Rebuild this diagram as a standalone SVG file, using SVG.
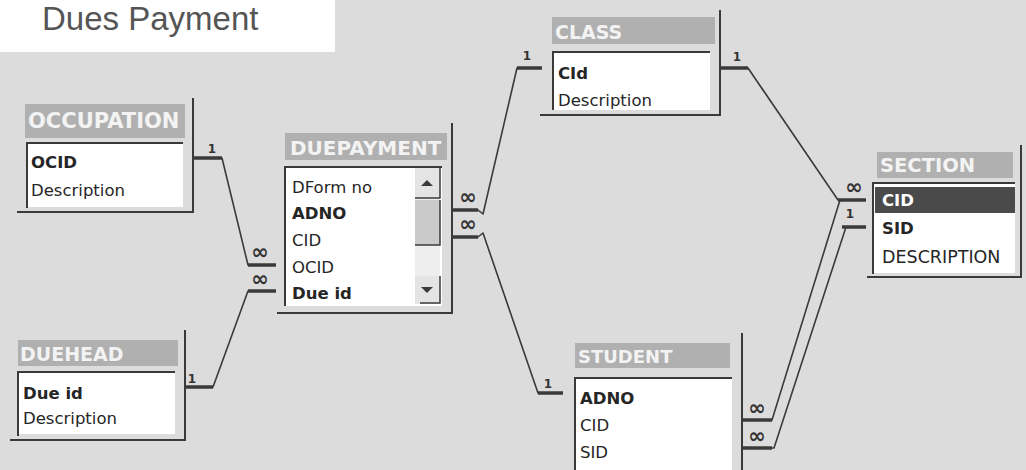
<svg xmlns="http://www.w3.org/2000/svg" width="1026" height="470" viewBox="0 0 1026 470">
<style>
.frame{fill:none;stroke:#3a3a3a;stroke-width:2}
.hdr{fill:#b0b0b0}
.htxt{font-family:"DejaVu Sans",sans-serif;font-weight:bold;fill:#f3f3f3}
.list{fill:#ffffff}
.sunk{fill:none;stroke:#3a3a3a;stroke-width:2}
.fld{font-family:"DejaVu Sans",sans-serif;font-size:16.5px;fill:#262626}
.pk{font-weight:bold}
.conn{fill:none;stroke:#3a3a3a;stroke-width:1.6;stroke-linejoin:round}
.bar{fill:none;stroke:#3a3a3a;stroke-width:3.5}
.one{font-family:"DejaVu Sans",sans-serif;font-weight:bold;font-size:12px;fill:#333333;text-anchor:middle}
.inf{font-family:"DejaVu Sans",sans-serif;font-weight:bold;font-size:21px;fill:#333333;text-anchor:middle}
.btn{fill:#e4e4e4}
.edge{fill:none;stroke:#3a3a3a;stroke-width:1.5}
</style>
<rect x="0" y="0" width="1026" height="470" fill="#dcdcdc"/>
<g id="title">
<rect x="0" y="0" width="335" height="52" fill="#ffffff"/>
<text x="42" y="30" font-family="Liberation Sans, Arial, sans-serif" font-size="33" fill="#555555">Dues Payment</text>
</g>
<g id="connectors">
<path class="conn" d="M193,158 H222 L248,265 H276"/>
<path class="bar" d="M193,158 H222 M248,265 H276"/>
<path class="conn" d="M185,387 H213 L248,291 H276"/>
<path class="bar" d="M185,387 H213 M248,291 H276"/>
<text class="inf" x="260" y="259">∞</text>
<text class="inf" x="260" y="286">∞</text>
<text class="one" x="212" y="153">1</text>
<text class="one" x="192" y="383">1</text>
<path class="conn" d="M452,210 H478 L483,214 L517,68 H542"/>
<path class="bar" d="M452,210 H478 M517,68 H542"/>
<path class="conn" d="M452,237 H478 L483,233 L538,393 H563"/>
<path class="bar" d="M452,237 H478 M538,393 H563"/>
<text class="inf" x="468" y="204">∞</text>
<text class="inf" x="468" y="231">∞</text>
<text class="one" x="527" y="60">1</text>
<text class="one" x="548" y="388">1</text>
<path class="conn" d="M720,68 H748 L838,200 H866"/>
<path class="bar" d="M720,68 H748 M838,200 H866"/>
<path class="conn" d="M742,420 H772 L840,200"/>
<path class="bar" d="M742,420 H772"/>
<path class="conn" d="M742,448 H774 L846,227 H866"/>
<path class="bar" d="M742,448 H772 M842,227 H866"/>
<text class="inf" x="854" y="194">∞</text>
<text class="inf" x="757" y="415">∞</text>
<text class="inf" x="757" y="443">∞</text>
<text class="one" x="737" y="61">1</text>
<text class="one" x="850" y="218">1</text>
</g>
<g id="occupation">
<rect class="hdr" x="25" y="104" width="160" height="34"/>
<text class="htxt" x="28" y="128" font-size="21">OCCUPATION</text>
<rect class="list" x="27" y="143" width="156" height="64"/>
<path class="sunk" d="M27,208 V143 H183"/>
<path class="frame" d="M193,98 V212 H17"/>
<text class="fld pk" x="31" y="168">OCID</text>
<text class="fld" x="31" y="196">Description</text>
</g>
<g id="duehead">
<rect class="hdr" x="18" y="340" width="160" height="26"/>
<text class="htxt" x="20" y="361" font-size="19">DUEHEAD</text>
<rect class="list" x="18" y="372" width="157" height="62"/>
<path class="sunk" d="M18,436 V372 H175"/>
<path class="frame" d="M185,330 V440 H10"/>
<text class="fld pk" x="23" y="399">Due id</text>
<text class="fld" x="23" y="424">Description</text>
</g>
<g id="duepayment">
<rect class="hdr" x="285" y="133" width="162" height="27"/>
<text class="htxt" x="290" y="155" font-size="20">DUEPAYMENT</text>
<rect class="list" x="285" y="167" width="157" height="139"/>
<path class="sunk" d="M285,306 V167 H442"/>
<path class="frame" d="M452,123 V313 H277"/>
<text class="fld" x="292" y="193">DForm no</text>
<text class="fld pk" x="292" y="219">ADNO</text>
<text class="fld" x="292" y="246">CID</text>
<text class="fld" x="292" y="273">OCID</text>
<text class="fld pk" x="292" y="299">Due id</text>
<rect x="415" y="168" width="25" height="136" fill="#eeeeee"/>
<rect class="btn" x="415" y="168" width="25" height="30"/>
<path class="edge" d="M415,198 H440 V168"/>
<polygon points="421,186 433,186 427,180" fill="#3a3a3a"/>
<rect x="415" y="200" width="25" height="45" fill="#cacaca"/>
<path class="edge" d="M415,245 H440 V200"/>
<rect class="btn" x="415" y="276" width="25" height="28"/>
<path class="edge" d="M420,303 H440 V276"/>
<polygon points="421,287 433,287 427,293" fill="#3a3a3a"/>
</g>
<g id="class">
<rect class="hdr" x="552" y="17" width="163" height="27"/>
<text class="htxt" x="555" y="39" font-size="19">CLASS</text>
<rect class="list" x="553" y="52" width="157" height="58"/>
<path class="sunk" d="M553,110 V52 H710"/>
<path class="frame" d="M720,10 V115 H540"/>
<text class="fld pk" x="558" y="79">CId</text>
<text class="fld" x="558" y="106">Description</text>
</g>
<g id="section">
<rect class="hdr" x="877" y="152" width="136" height="26"/>
<text class="htxt" x="880" y="172" font-size="19.5">SECTION</text>
<rect class="list" x="873" y="183" width="142" height="90"/>
<rect x="875" y="187" width="140" height="26" fill="#4a4a4a"/>
<path class="sunk" d="M873,274 V183 H1015"/>
<path class="frame" d="M1021,145 V277 H867"/>
<text class="fld pk" x="882" y="206" style="fill:#ffffff">CID</text>
<text class="fld pk" x="882" y="234">SID</text>
<text class="fld" x="882" y="263" style="font-size:17.5px">DESCRIPTION</text>
</g>
<g id="student">
<rect class="hdr" x="575" y="343" width="155" height="25"/>
<text class="htxt" x="578" y="363" font-size="18">STUDENT</text>
<rect class="list" x="575" y="378" width="157" height="92"/>
<path class="sunk" d="M575,470 V378 H732"/>
<path class="frame" d="M742,333 V470"/>
<text class="fld pk" x="580" y="404">ADNO</text>
<text class="fld" x="580" y="431">CID</text>
<text class="fld" x="580" y="458">SID</text>
</g>
</svg>
